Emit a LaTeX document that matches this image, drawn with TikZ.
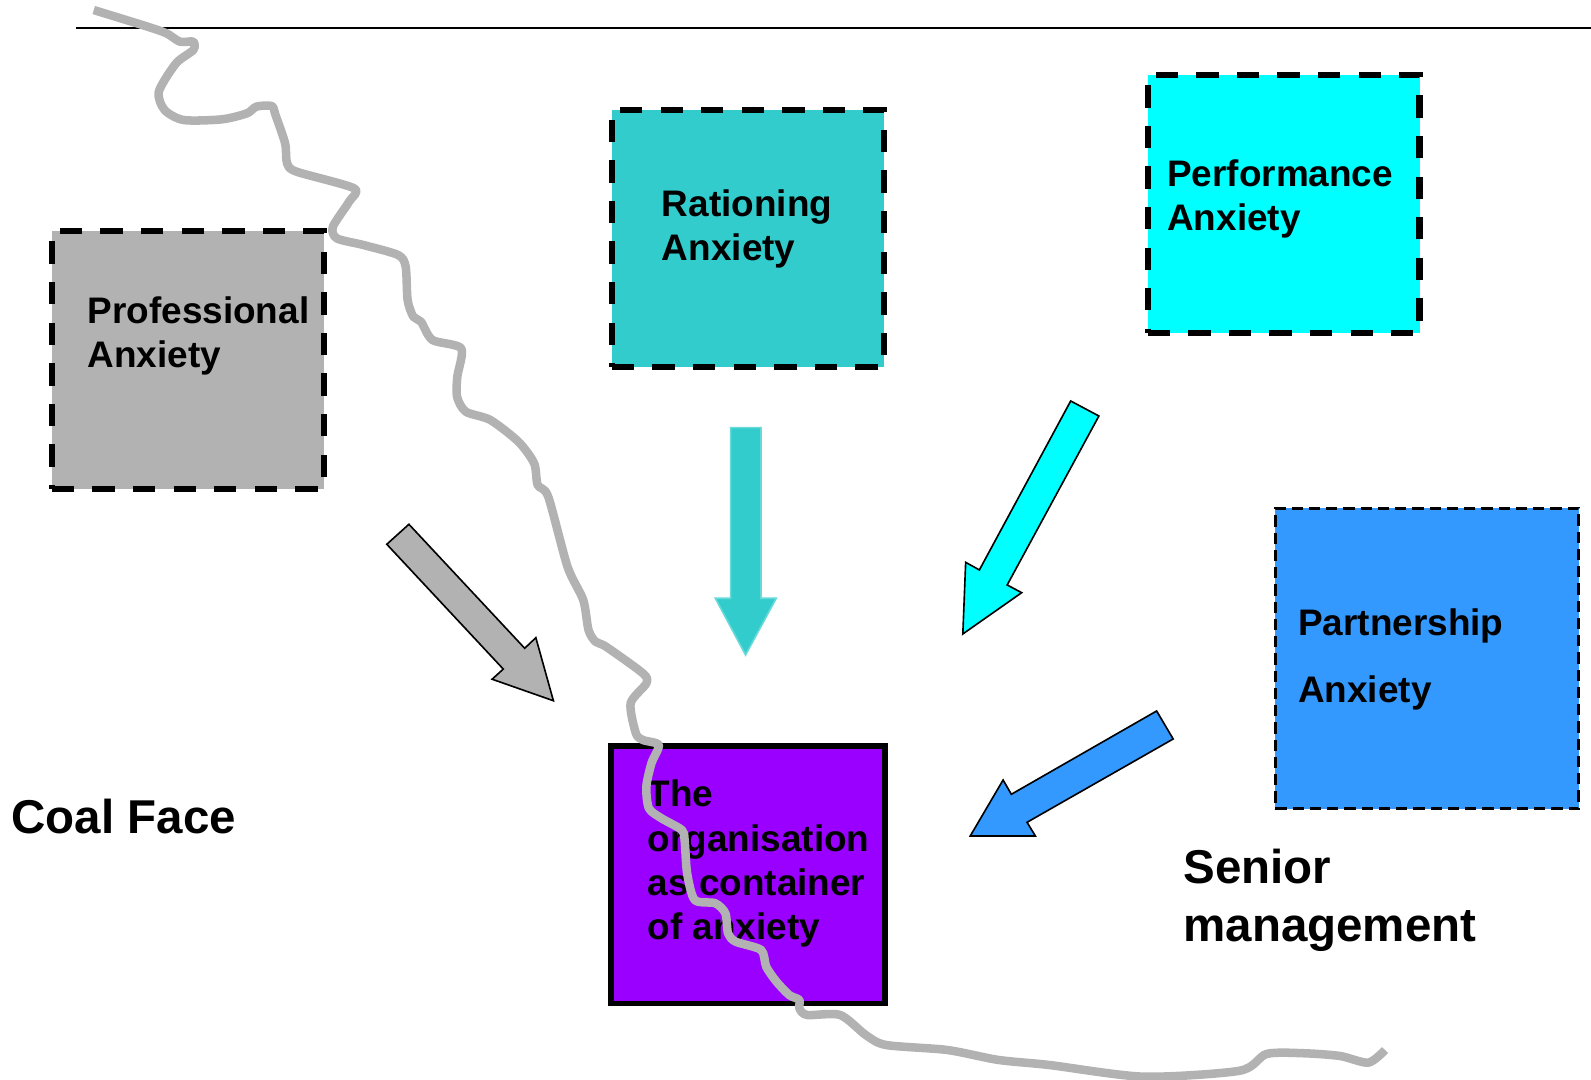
\documentclass[tikz,border=0pt]{standalone}
\usepackage{fontspec}
\setmainfont{Liberation Sans}
\usetikzlibrary{fit}
\definecolor{boxgray}{HTML}{B2B2B2}
\definecolor{rationteal}{HTML}{33CCCC}
\definecolor{perfcyan}{HTML}{00FFFF}
\definecolor{partblue}{HTML}{3399FF}
\definecolor{orgpurple}{HTML}{9900FF}
\definecolor{riverline}{HTML}{B2B2B2}
\begin{document}
\begin{tikzpicture}[x=0.5pt,y=-0.5pt,
  anxbox/.style={draw=black, line width=3pt, dash pattern=on 11pt off 9pt, inner sep=0pt},
  thinbox/.style={draw=black, line width=1.5pt, dash pattern=on 5.5pt off 3pt, inner sep=0pt},
  orgbox/.style={draw=black, line width=2.8pt, inner sep=0pt},
  boxtext/.style={anchor=base west, align=left, inner sep=0pt, font=\fontsize{18.2}{21.8}\selectfont\bfseries},
  bigtext/.style={anchor=base west, align=left, inner sep=0pt, font=\fontsize{23.4}{28.7}\selectfont\bfseries},
  blockarrow/.style={draw=black, line width=0.8pt, line join=miter},
  river/.style={draw=riverline, line width=4.2pt, line join=round},
]
\useasboundingbox (0,0) rectangle (1568,1064);

% header rule
\coordinate (ruleL) at (75,28);
\coordinate (ruleR) at (1568,28);
\draw[line width=1pt] (ruleL) -- (ruleR);

% the anxiety boxes
\node[anxbox, fill=boxgray, fit={(51,228) (319,482)}] (prof) {};
\node[anxbox, fill=rationteal, fit={(603,108) (871,362)}] (ration) {};
\node[anxbox, fill=perfcyan, fit={(1131,74) (1399,328)}] (perf) {};
\node[thinbox, fill=partblue, fit={(1257,501) (1556,797)}] (part) {};
\node[orgbox, fill=orgpurple, fit={(602,735) (872,989)}] (org) {};

% box labels (anchored at the baseline of the last line)
\node[boxtext] (proftxt) at (86,362) {Professional\\Anxiety};
\node[boxtext] (rationtxt) at (652,257) {Rationing\\Anxiety};
\node[boxtext] (perftxt) at (1150,227) {Performance\\Anxiety};
\node[boxtext, font=\fontsize{18.2}{32.8}\selectfont\bfseries] (parttxt) at (1279,692) {Partnership\\Anxiety};
\node[boxtext] (orgtxt) at (638,926) {The\\organisation\\as container\\of anxiety};

% side captions
\node[bigtext] (coal) at (11,821) {Coal Face};
\node[bigtext] (senior) at (1166,928) {Senior\\management};

% block arrows pointing at the container
\filldraw[blockarrow, fill=boxgray]
  (381.2,536.4) -- (403,516.7) -- (517.1,638.9) -- (528.1,628.5)
  -- (545.4,690.6) -- (485,669.4) -- (496,659.4) -- cycle;
\filldraw[draw=rationteal!75!white, line width=0.8pt, fill=rationteal]
  (720,421.5) -- (750,421.5) -- (750,589.6) -- (765,589.6)
  -- (734.8,645.5) -- (705,589.6) -- (720,589.6) -- cycle;
\filldraw[blockarrow, fill=perfcyan]
  (1055.2,395.2) -- (1083,410) -- (992.6,576.5) -- (1006.9,584.1)
  -- (948.9,624.8) -- (951.7,554.2) -- (965.2,561.7) -- cycle;
\filldraw[blockarrow, fill=partblue]
  (1139.9,700.7) -- (1156.2,728.3) -- (1012.2,810.4) -- (1020.4,823.9)
  -- (956.2,823.9) -- (988.6,768.7) -- (996.7,782.8) -- cycle;

% winding boundary line
\draw[river] plot[smooth, tension=0.45] coordinates {
  (92.4,9.9) (143.3,25.6) (164,32.8) (177.3,41.1) (190.5,41.1) (190.5,49.3)
  (173.5,62.4) (156.5,90.3) (162.2,108.4) (181,118.3) (218.8,117.6)
  (243.3,111.7) (252.7,105.1) (267.8,104.5) (271.5,113.3) (281,141.3)
  (282.9,161) (292.3,169.2) (348.9,185.6) (344,198.8) (328.1,223.4)
  (331.9,234.9) (358.3,241.5) (392.3,251.3) (399.8,262.8) (401.7,295.7)
  (407.3,312.1) (414.9,317) (426.2,335.1) (454.5,343.3) (450.7,371.2)
  (450.4,390.9) (459,405.7) (483.2,413.9) (510.9,435.3) (526.4,456.6)
  (529.9,478) (540.3,489.5) (559.3,558.5) (574.8,591.3) (580,620.9)
  (586.9,632.4) (597.2,637.3) (633.6,663.6) (637,673.4) (621.5,693.1)
  (626.7,722.7) (633.6,729.3) (649.2,734.2) (642,752.3) (637,775.3)
  (639.5,796.6) (652,806.5) (672.1,818) (674.7,827.8) (677.2,860.7)
  (684.7,887) (704.9,890.2) (714.9,900.1) (717.5,919.8) (724.9,928)
  (750.1,936.2) (755.1,952.7) (765.2,967.4) (777.8,980.6) (787.8,985.5)
  (787.8,993.7) (795.3,1000.3) (828,1000.3) (853.2,1020) (873.3,1029.9)
  (933.6,1034.8) (983.9,1044.6) (1034.2,1049.6) (1126.8,1061.1)
  (1222,1055.2) (1248.3,1038.7) (1284.5,1038) (1320.6,1040.7)
  (1348.5,1047.3) (1365,1034.8)};
\end{tikzpicture}
\end{document}
